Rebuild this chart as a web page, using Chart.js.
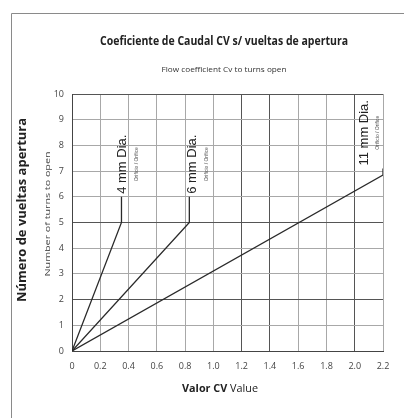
<!DOCTYPE html>
<html>
<head>
<meta charset="utf-8">
<script src="https://cdn.jsdelivr.net/npm/chart.js@4/dist/chart.umd.min.js"></script>
<style>
  html, body { margin: 0; padding: 0; background: #fff; }
</style>
</head>
<body>
<canvas id="cvChart" width="406" height="418"></canvas>
<script>
// tick values and labels
const xTicks = [0, 0.2, 0.4, 0.6, 0.8, 1.0, 1.2, 1.4, 1.6, 1.8, 2.0, 2.2];
const xTickLabels = ["0", "0.2", "0.4", "0.6", "0.8", "1.0", "1.2", "1.4", "1.6", "1.8", "2.0", "2.2"];
const yTicks = [0, 1, 2, 3, 4, 5, 6, 7, 8, 9, 10];
const xDarkLines = [0, 1.2, 1.4, 2.0];
const yDarkLines = [0, 2, 5, 10];

// series: Cv value vs turns open (last point = label leader)
const cv4 = [0, 0.35, 0.35];
const turns4 = [0, 5, 6.0];
const cv6 = [0, 0.83, 0.83];
const turns6 = [0, 5, 6.0];
const cv11 = [0, 2.2, 2.2];
const turns11 = [0, 6.85, 7.1];

const diaLabels = ["4 mm Dia.", "6 mm Dia.", "11 mm Dia."];
const orificeLabel = "Orificio / Orifice";

const FONT = "'Open Sans', sans-serif";

function toPoints(xs, ys) {
  return xs.map((x, i) => ({ x: x, y: ys[i] }));
}

// draws text squeezed to a given width
function fitText(ctx, text, x, y, width) {
  const w = ctx.measureText(text).width;
  ctx.save();
  ctx.translate(x, y);
  ctx.scale(width / w, 1);
  ctx.fillText(text, 0, 0);
  ctx.restore();
}

const decorPlugin = {
  id: "decor",
  beforeDraw(chart) {
    const ctx = chart.ctx;
    ctx.save();
    ctx.fillStyle = "#fff";
    ctx.fillRect(0, 0, chart.width, chart.height);
    ctx.strokeStyle = "#8a8a8a";
    ctx.lineWidth = 1;
    ctx.beginPath();
    ctx.moveTo(11.5, chart.height);
    ctx.lineTo(11.5, 13.5);
    ctx.lineTo(404, 13.5);
    ctx.stroke();
    ctx.restore();
  },
  afterDraw(chart) {
    const ctx = chart.ctx;
    ctx.save();
    ctx.fillStyle = "#222";
    ctx.textAlign = "center";
    ctx.textBaseline = "middle";

    ctx.font = "bold 12px " + FONT;
    fitText(ctx, "Coeficiente de Caudal CV s/ vueltas de apertura", 224, 42, 248);
    ctx.fillStyle = "#333";
    ctx.font = "8px " + FONT;
    fitText(ctx, "Flow coefficient Cv to turns open", 224, 70, 125);

    // y axis titles
    ctx.save();
    ctx.translate(23, 210);
    ctx.rotate(-Math.PI / 2);
    ctx.fillStyle = "#222";
    ctx.font = "bold 12px " + FONT;
    fitText(ctx, "Número de vueltas apertura", 0, 0, 184);
    ctx.restore();
    ctx.save();
    ctx.translate(48, 214);
    ctx.rotate(-Math.PI / 2);
    ctx.fillStyle = "#444";
    ctx.font = "8px " + FONT;
    fitText(ctx, "Number of turns to open", 0, 0, 125);
    ctx.restore();

    // x axis title, bold + regular parts
    ctx.textAlign = "left";
    ctx.fillStyle = "#222";
    ctx.font = "bold 11px " + FONT;
    const p1 = "Valor CV ";
    const w1 = ctx.measureText(p1).width;
    ctx.font = "11px " + FONT;
    const w2 = ctx.measureText("Value").width;
    const sx = 76 / (w1 + w2);
    ctx.save();
    ctx.translate(182, 389);
    ctx.scale(sx, 1);
    ctx.font = "bold 11px " + FONT;
    ctx.fillText(p1, 0, 0);
    ctx.font = "11px " + FONT;
    ctx.fillText("Value", w1, 0);
    ctx.restore();

    // diameter labels at top of each leader
    const offsets = [1, 3, -19];
    chart.data.datasets.forEach((ds, i) => {
      const meta = chart.getDatasetMeta(i);
      const last = meta.data[meta.data.length - 1];
      const bx = last.x + offsets[i];
      const by = last.y - 3;
      ctx.save();
      ctx.translate(bx, by);
      ctx.rotate(-Math.PI / 2);
      ctx.fillStyle = "#222";
      ctx.textAlign = "left";
      ctx.font = "13px 'Liberation Sans', Arial, sans-serif";
      const len = ctx.measureText(diaLabels[i]).width;
      ctx.fillText(diaLabels[i], 0, 0);
      ctx.fillStyle = "#555";
      ctx.textAlign = "center";
      ctx.font = "5px 'Liberation Sans', Arial, sans-serif";
      ctx.fillText(orificeLabel, len / 2, 14);
      ctx.restore();
    });
    ctx.restore();
  },
};

const seriesStyle = {
  showLine: true,
  borderColor: "#2a2a2a",
  borderWidth: 1.3,
  pointRadius: 0,
  fill: false,
  tension: 0,
};

new Chart(document.getElementById("cvChart"), {
  type: "scatter",
  data: {
    datasets: [
      { label: diaLabels[0], data: toPoints(cv4, turns4), ...seriesStyle },
      { label: diaLabels[1], data: toPoints(cv6, turns6), ...seriesStyle },
      { label: diaLabels[2], data: toPoints(cv11, turns11), ...seriesStyle },
    ],
  },
  options: {
    responsive: false,
    animation: false,
    devicePixelRatio: 1,
    layout: { padding: { top: 94, right: 23, left: 0, bottom: 0 } },
    plugins: {
      legend: { display: false },
      tooltip: { enabled: false },
    },
    scales: {
      x: {
        type: "linear",
        min: 0,
        max: 2.2,
        afterBuildTicks: (scale) => {
          scale.ticks = xTicks.map((v) => ({ value: v }));
        },
        afterFit: (scale) => {
          scale.height = 67;
        },
        ticks: {
          callback: (v, i) => xTickLabels[i],
          font: { family: "'Open Sans', sans-serif", size: 9 },
          color: "#444",
          padding: 10,
          maxRotation: 0,
        },
        grid: {
          drawTicks: false,
          color: (c) => (xDarkLines.includes(c.tick && c.tick.value) ? "#555" : "#a8a8a8"),
          lineWidth: 1,
        },
        border: { display: true, color: "#444" },
      },
      y: {
        type: "linear",
        min: 0,
        max: 10,
        afterBuildTicks: (scale) => {
          scale.ticks = yTicks.map((v) => ({ value: v }));
        },
        afterFit: (scale) => {
          scale.width = 72;
        },
        ticks: {
          font: { family: "'Open Sans', sans-serif", size: 9 },
          color: "#444",
          padding: 8,
        },
        grid: {
          drawTicks: false,
          color: (c) => (yDarkLines.includes(c.tick && c.tick.value) ? "#555" : "#a8a8a8"),
          lineWidth: 1,
        },
        border: { display: true, color: "#444" },
      },
    },
  },
  plugins: [decorPlugin],
});
</script>
</body>
</html>
